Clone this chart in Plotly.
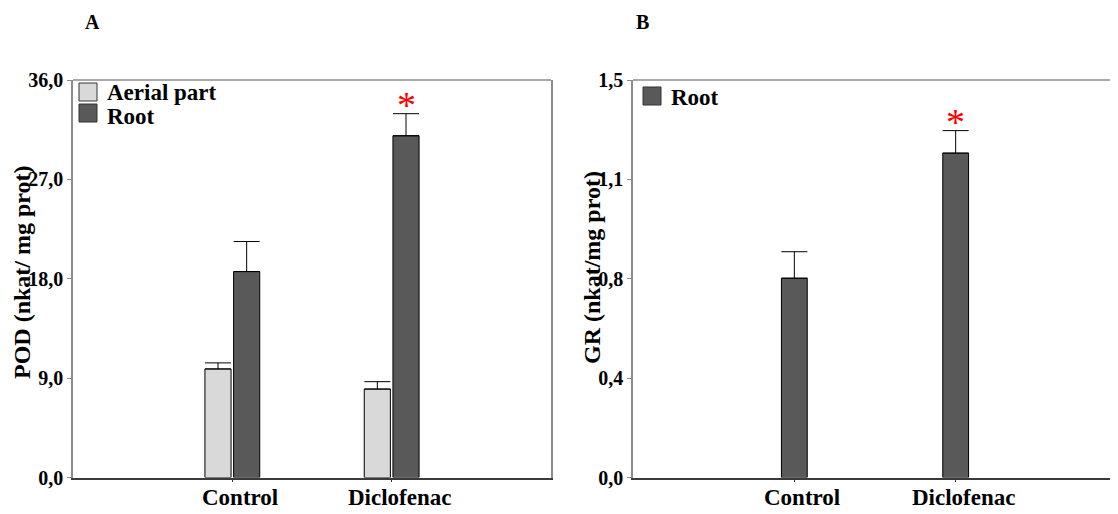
import plotly.graph_objects as go

# ---- data ----
categories = ["Control", "Diclofenac"]
pod_aerial = [9.83, 8.01]
pod_aerial_err = [0.55, 0.67]
pod_root = [18.65, 30.95]
pod_root_err = [2.72, 2.0]
gr_root = [0.752, 1.224]
gr_root_err = [0.10, 0.085]
pod_ticks = [0, 9, 18, 27, 36]
pod_ticktext = ["0,0", "9,0", "18,0", "27,0", "36,0"]
gr_ticks = [0, 0.375, 0.75, 1.125, 1.5]
gr_ticktext = ["0,0", "0,4", "0,8", "1,1", "1,5"]
pod_signif = [False, True]
gr_signif = [False, True]

# page offset (browser body margin) compensation
OFF = 8
W, H = 1118 - OFF, 514 - OFF
FONT = "Liberation Serif, Times New Roman, serif"
LIGHT = "#d9d9d9"
DARK = "#595959"


def px(x):
    return (x - OFF) / W


def py(y):
    return (H - (y - OFF)) / H


fig = go.Figure()

bar_w = 0.164
fig.add_trace(go.Bar(
    x=categories, y=pod_aerial, width=bar_w, offset=-0.172,
    marker=dict(color=LIGHT, line=dict(color="black", width=1)),
    error_y=dict(type="data", array=pod_aerial_err, arrayminus=[0, 0], symmetric=False,
                 color="black", thickness=1, width=13),
    xaxis="x", yaxis="y", showlegend=False, name="Aerial part"))
fig.add_trace(go.Bar(
    x=categories, y=pod_root, width=bar_w, offset=0.008,
    marker=dict(color=DARK, line=dict(color="black", width=1)),
    error_y=dict(type="data", array=pod_root_err, arrayminus=[0, 0], symmetric=False,
                 color="black", thickness=1, width=13),
    xaxis="x", yaxis="y", showlegend=False, name="Root"))
fig.add_trace(go.Bar(
    x=categories, y=gr_root, width=0.16, offset=-0.08,
    marker=dict(color=DARK, line=dict(color="black", width=1)),
    error_y=dict(type="data", array=gr_root_err, arrayminus=[0, 0], symmetric=False,
                 color="black", thickness=1, width=13),
    xaxis="x2", yaxis="y2", showlegend=False, name="Root"))

xdA = [px(73), px(551)]
xdB = [px(633), px(1117)]
yd = [py(477.5), py(80)]

tickfont = dict(family=FONT, size=20, color="black", weight="bold")
catfont = dict(family=FONT, size=23, color="black", weight="bold")

common_x = dict(type="category", range=[-1, 2], showline=True, linecolor="#3a3a3a", linewidth=1.5,
                ticks="outside", ticklen=3, tickcolor="#3a3a3a", showticklabels=False,
                showgrid=False, zeroline=False, automargin=False, mirror=False)
common_y = dict(showline=True, linecolor="#8c8c8c", linewidth=1.5, mirror=True,
                ticks="outside", ticklen=4, tickcolor="#8c8c8c", tickfont=tickfont,
                showgrid=False, zeroline=False, automargin=False, ticklabelstandoff=0)

fig.update_layout(
    width=W, height=H, margin=dict(l=0, r=0, t=0, b=0),
    plot_bgcolor="white", paper_bgcolor="white", barmode="overlay",
    xaxis=dict(domain=xdA, anchor="y", **common_x),
    yaxis=dict(domain=yd, anchor="x", range=[0, 36], tickvals=pod_ticks, ticktext=pod_ticktext, **common_y),
    xaxis2=dict(domain=xdB, anchor="y2", **common_x),
    yaxis2=dict(domain=yd, anchor="x2", range=[0, 1.5], tickvals=gr_ticks, ticktext=gr_ticktext, **common_y),
    showlegend=False,
)

shapes = []
for xd in (xdA, xdB):
    shapes.append(dict(type="line", xref="paper", yref="paper", x0=xd[0], x1=xd[1], y0=yd[1], y1=yd[1],
                       line=dict(color="#8c8c8c", width=1.5)))


def legend_box(x0, y0, color):
    shapes.append(dict(type="rect", xref="paper", yref="paper",
                       x0=px(x0), x1=px(x0 + 18), y0=py(y0 + 18), y1=py(y0),
                       fillcolor=color, line=dict(color="#333333", width=1)))


legend_box(79, 83, LIGHT)
legend_box(79, 104, DARK)
legend_box(643, 87, DARK)
fig.update_layout(shapes=shapes)

ann = []
# category labels (slightly right of the tick, as in the source)
for xr in ("x", "x2"):
    for c in categories:
        ann.append(dict(text=c, xref=xr, yref="paper", x=c, xshift=8, y=py(497),
                        xanchor="center", yanchor="middle", showarrow=False, font=catfont))
legfont = dict(family=FONT, size=23, color="black", weight="bold")
ann.append(dict(text="Aerial part", xref="paper", yref="paper", x=px(105), y=py(92),
                xanchor="left", yanchor="middle", showarrow=False, font=legfont))
ann.append(dict(text="Root", xref="paper", yref="paper", x=px(105), y=py(116),
                xanchor="left", yanchor="middle", showarrow=False, font=legfont))
ann.append(dict(text="Root", xref="paper", yref="paper", x=px(669), y=py(98),
                xanchor="left", yanchor="middle", showarrow=False, font=legfont))
pfont = dict(family=FONT, size=20, color="black", weight="bold")
ann.append(dict(text="A", xref="paper", yref="paper", x=px(92), y=py(22),
                xanchor="center", yanchor="middle", showarrow=False, font=pfont))
ann.append(dict(text="B", xref="paper", yref="paper", x=px(642), y=py(22),
                xanchor="center", yanchor="middle", showarrow=False, font=pfont))
ytfont = dict(family=FONT, size=24, color="black", weight="bold")
ann.append(dict(text="POD (nkat/ mg prot)", xref="paper", yref="paper", x=px(22), y=py(272),
                xanchor="center", yanchor="middle", textangle=-90, showarrow=False, font=ytfont))
ann.append(dict(text="GR (nkat/mg prot)", xref="paper", yref="paper", x=px(592), y=py(268),
                xanchor="center", yanchor="middle", textangle=-90, showarrow=False, font=ytfont))
starfont = dict(family=FONT, size=38, color="red")
for i, s in enumerate(pod_signif):
    if s:
        ann.append(dict(text="*", xref="x", yref="y", x=categories[i], xshift=15,
                        y=pod_root[i] + pod_root_err[i], yanchor="bottom", yshift=-14,
                        showarrow=False, font=starfont))
for i, s in enumerate(gr_signif):
    if s:
        ann.append(dict(text="*", xref="x2", yref="y2", x=categories[i],
                        y=gr_root[i] + gr_root_err[i], yanchor="bottom", yshift=-14,
                        showarrow=False, font=starfont))
fig.update_layout(annotations=ann)

fig.write_html("out.html")
